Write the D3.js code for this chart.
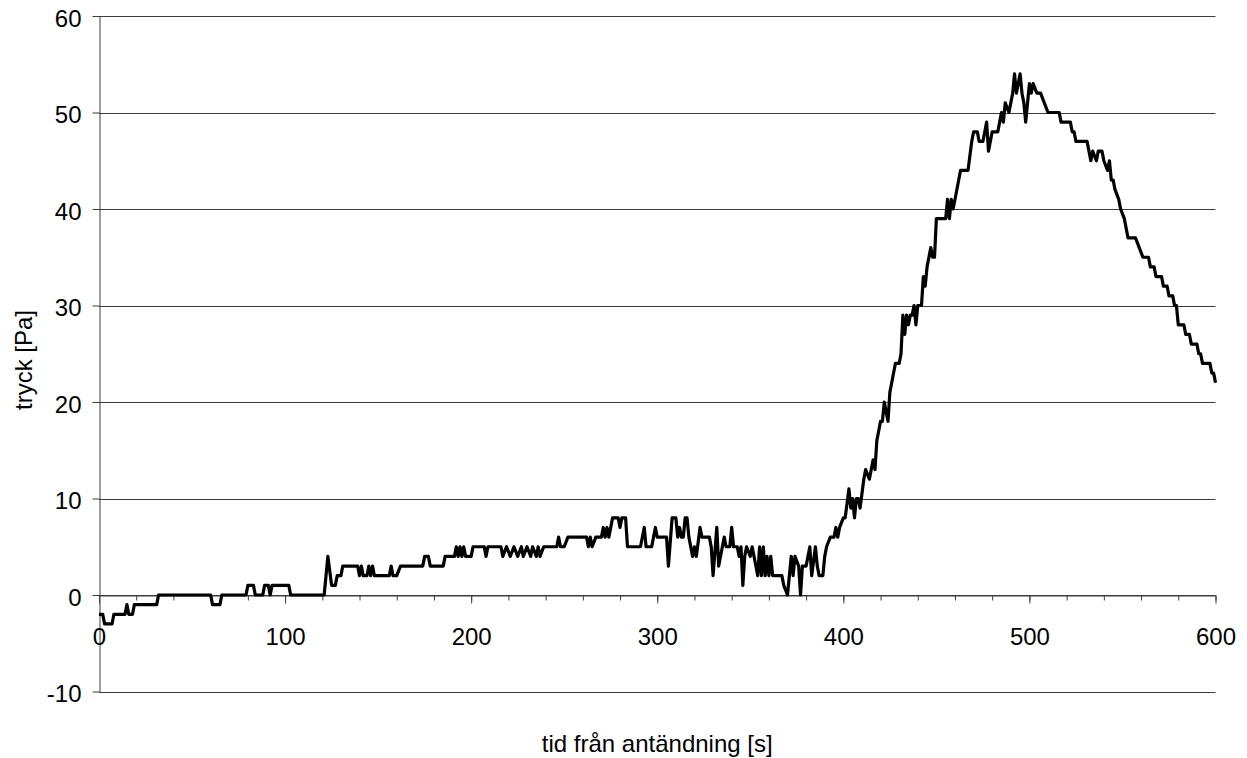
<!DOCTYPE html>
<html>
<head>
<meta charset="utf-8">
<script src="https://cdn.jsdelivr.net/npm/d3@7"></script>
<style>
  body { margin: 0; background: #fff; }
  text { font-family: "Liberation Sans", Arial, Helvetica, sans-serif; fill: #000; }
</style>
</head>
<body>
<svg id="chart" width="1247" height="758"></svg>
<script>
// Pressure readings after ignition: time [s] and pressure [Pa]
const seconds = [
  0, 2, 3, 7, 8, 14, 15, 16, 18, 19, 31, 32, 60, 61, 65, 66, 79, 80, 83, 84,
  88, 89, 91, 92, 93, 102, 103, 121, 123, 125, 127, 128, 130, 131, 139, 140, 141, 142, 144, 145,
  146, 147, 148, 156, 157, 158, 160, 162, 174, 175, 177, 178, 185, 186, 191, 192, 193, 194, 195, 196,
  197, 200, 201, 207, 208, 209, 216, 217, 219, 221, 223, 225, 227, 228, 230, 232, 233, 235, 236, 237,
  239, 246, 247, 248, 250, 252, 262, 263, 264, 265, 267, 270, 271, 272, 273, 274, 276, 279, 280, 281,
  283, 284, 291, 293, 294, 297, 298, 299, 300, 305, 306, 308, 310, 311, 312, 313, 314, 315, 316, 317,
  319, 320, 321, 323, 324, 328, 329, 330, 332, 333, 335, 336, 337, 339, 340, 341, 343, 344, 345, 346,
  347, 348, 350, 351, 352, 353, 354, 355, 356, 357, 358, 359, 360, 361, 362, 367, 368, 370, 372, 373,
  374, 376, 377, 378, 380, 382, 383, 385, 386, 387, 389, 390, 391, 393, 395, 396, 397, 398, 400, 401,
  403, 404, 405, 406, 407, 408, 409, 411, 412, 414, 415, 416, 417, 418, 419, 420, 421, 422, 423, 424,
  425, 427, 428, 430, 431, 432, 433, 434, 435, 436, 437, 438, 439, 440, 442, 443, 444, 445, 446, 447,
  448, 449, 450, 455, 456, 457, 458, 459, 461, 462, 463, 467, 469, 470, 472, 473, 475, 477, 478, 479,
  480, 483, 484, 485, 486, 487, 489, 490, 491, 492, 493, 494, 495, 496, 497, 498, 499, 500, 501, 502,
  504, 506, 508, 510, 516, 517, 522, 523, 524, 525, 531, 532, 533, 534, 536, 537, 539, 540, 542, 543,
  544, 545, 546, 548, 549, 551, 553, 557, 559, 561, 564, 565, 567, 568, 571, 572, 574, 575, 577, 578,
  579, 580, 583, 584, 586, 587, 590, 591, 592, 593, 597, 598, 599, 600
];
const pressure = [
  -2, -2, -3, -3, -2, -2, -1, -2, -2, -1, -1, 0, 0, -1, -1, 0, 0, 1, 1, 0,
  0, 1, 1, 0, 1, 1, 0, 0, 4, 1, 1, 2, 2, 3, 3, 2, 3, 2, 2, 3,
  2, 3, 2, 2, 3, 2, 2, 3, 3, 4, 4, 3, 3, 4, 4, 5, 4, 5, 4, 5,
  4, 4, 5, 5, 4, 5, 5, 4, 5, 4, 5, 4, 5, 4, 5, 4, 5, 4, 5, 4,
  5, 5, 6, 5, 5, 6, 6, 5, 6, 5, 6, 6, 7, 6, 7, 6, 8, 8, 7, 8,
  8, 5, 5, 7, 5, 5, 6, 7, 6, 6, 3, 8, 8, 6, 7, 6, 6, 8, 8, 6,
  4, 5, 4, 7, 6, 6, 5, 2, 7, 3, 5, 6, 5, 5, 7, 5, 5, 4, 5, 1,
  4, 5, 4, 5, 4, 3, 2, 5, 2, 5, 2, 4, 2, 4, 2, 2, 1, 0, 4, 2,
  4, 3, 0, 3, 3, 5, 2, 5, 3, 2, 2, 4, 5, 6, 6, 7, 6, 7, 8, 8,
  11, 9, 10, 8, 10, 10, 9, 12, 13, 12, 13, 14, 13, 16, 17, 18, 18, 20, 19, 18,
  21, 23, 24, 24, 25, 29, 27, 29, 28, 29, 29, 30, 28, 30, 30, 33, 32, 34, 35, 36,
  35, 35, 39, 39, 41, 39, 41, 40, 42, 43, 44, 44, 47, 48, 48, 47, 47, 49, 46, 47,
  48, 48, 49, 50, 49, 51, 50, 51, 52, 54, 52, 53, 54, 52, 51, 49, 51, 53, 52, 53,
  52, 52, 51, 50, 50, 49, 49, 48, 48, 47, 47, 46, 45, 46, 45, 46, 46, 45, 44, 45,
  43, 43, 42, 41, 40, 39, 37, 37, 36, 35, 35, 34, 34, 33, 33, 32, 32, 31, 31, 30,
  30, 28, 28, 27, 27, 26, 26, 25, 25, 24, 24, 23, 23, 22
];

// Axis ticks
const xTickValues = [0, 100, 200, 300, 400, 500, 600];
const xMinorTickValues = d3.range(0, 601, 20);
const yTickValues = [-10, 0, 10, 20, 30, 40, 50, 60];

// Axis titles
const xTitle = "tid från antändning [s]";
const yTitle = "tryck [Pa]";

const svg = d3.select("#chart");
const FONT = 24;
const plainNumber = d => String(d);

const x = d3.scaleLinear().domain([0, 600]).range([99, 1215.5]);
const y = d3.scaleLinear().domain([-10, 60]).range([691.5, 16]);

// Horizontal gridlines
svg.append("g")
  .selectAll("line")
  .data(yTickValues)
  .join("line")
  .attr("x1", x(0))
  .attr("x2", x(600))
  .attr("y1", d => Math.round(y(d)) + 0.5)
  .attr("y2", d => Math.round(y(d)) + 0.5)
  .attr("stroke", "#3c3c3c")
  .attr("stroke-width", 1);

// Y axis
const yAxis = svg.append("g")
  .attr("transform", `translate(${Math.round(x(0)) + 0.5},0)`)
  .call(d3.axisLeft(y).tickValues(yTickValues).tickFormat(plainNumber)
    .tickSize(7).tickSizeOuter(0).tickPadding(11));
yAxis.select(".domain").attr("stroke", "#3c3c3c");
yAxis.selectAll(".tick line").attr("stroke", "#3c3c3c");
yAxis.selectAll(".tick text")
  .attr("font-size", FONT)
  .attr("font-family", "Liberation Sans, Arial, sans-serif")
  .attr("dy", "0.43em");

// X axis at pressure zero: minor ticks
const xMinor = svg.append("g")
  .attr("transform", `translate(0,${Math.round(y(0)) + 0.5})`)
  .call(d3.axisBottom(x).tickValues(xMinorTickValues).tickSize(5).tickSizeOuter(0).tickFormat(""));
xMinor.select(".domain").remove();
xMinor.selectAll(".tick line").attr("stroke", "#3c3c3c");

// X axis at pressure zero: major ticks and labels
const xAxis = svg.append("g")
  .attr("transform", `translate(0,${Math.round(y(0)) + 0.5})`)
  .call(d3.axisBottom(x).tickValues(xTickValues).tickFormat(plainNumber)
    .tickSize(8).tickSizeOuter(0).tickPadding(24));
xAxis.select(".domain").attr("stroke", "#3c3c3c");
xAxis.selectAll(".tick line").attr("stroke", "#3c3c3c");
xAxis.selectAll(".tick text")
  .attr("font-size", FONT)
  .attr("font-family", "Liberation Sans, Arial, sans-serif");

// Pressure curve
const series = seconds.map((t, i) => ({ t, p: pressure[i] }));
svg.append("path")
  .datum(series)
  .attr("fill", "none")
  .attr("stroke", "#000")
  .attr("stroke-width", 3.2)
  .attr("stroke-linejoin", "round")
  .attr("d", d3.line().x(d => x(d.t)).y(d => y(d.p)));

// Axis titles
svg.append("text")
  .attr("x", (x(0) + x(600)) / 2)
  .attr("y", 752)
  .attr("text-anchor", "middle")
  .attr("font-size", FONT)
  .text(xTitle);

svg.append("text")
  .attr("transform", `translate(32,360) rotate(-90)`)
  .attr("text-anchor", "middle")
  .attr("font-size", FONT)
  .text(yTitle);
</script>
</body>
</html>
